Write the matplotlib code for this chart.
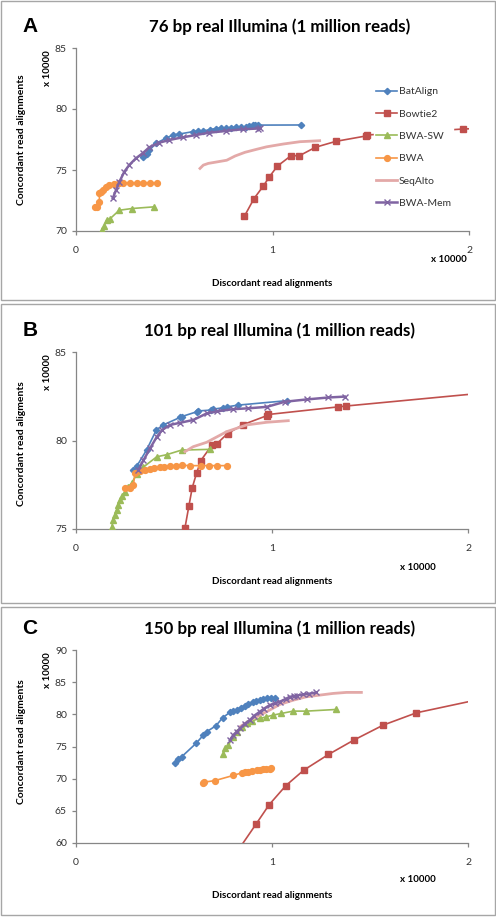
import matplotlib
matplotlib.use('Agg')
import matplotlib.pyplot as plt
from matplotlib.patches import Rectangle

W, H = 496, 917

names = ['BatAlign', 'Bowtie2', 'BWA-SW', 'BWA', 'SeqAlto', 'BWA-Mem']

# panel A: 76 bp (values in units of 10000)
a_batalign_x = [0.34, 0.36, 0.373, 0.407, 0.458, 0.492, 0.526, 0.594, 0.62, 0.645, 0.68, 0.712, 0.74, 0.763, 0.79, 0.814, 0.84, 0.865, 0.88, 0.899, 0.91, 0.924, 1.145]
a_batalign_y = [76.09, 76.3, 76.6, 77.19, 77.6, 77.87, 77.95, 78.14, 78.18, 78.2, 78.3, 78.4, 78.42, 78.45, 78.48, 78.5, 78.52, 78.55, 78.6, 78.66, 78.67, 78.68, 78.69]
a_bowtie2_x = [0.857, 0.906, 0.954, 0.984, 1.025, 1.094, 1.137, 1.218, 1.323, 1.476, 1.483, 1.971, 2.2]
a_bowtie2_y = [71.21, 72.66, 73.7, 74.44, 75.32, 76.17, 76.17, 76.86, 77.35, 77.79, 77.87, 78.36, 78.5]
a_bwasw_x = [0.12, 0.13, 0.143, 0.156, 0.173, 0.22, 0.283, 0.397]
a_bwasw_y = [69.7, 70.06, 70.4, 70.9, 71.0, 71.7, 71.84, 71.98]
a_bwa_x = [0.097, 0.105, 0.119, 0.119, 0.125, 0.136, 0.153, 0.17, 0.195, 0.221, 0.24, 0.275, 0.31, 0.34, 0.377, 0.41]
a_bwa_y = [71.98, 72.0, 72.4, 73.09, 73.2, 73.36, 73.6, 73.77, 73.85, 73.9, 73.93, 73.93, 73.93, 73.93, 73.93, 73.93]
a_seqalto_x = [0.631, 0.648, 0.673, 0.767, 0.81, 0.86, 0.92, 0.97, 1.055, 1.14, 1.24]
a_seqalto_y = [75.13, 75.4, 75.54, 75.8, 76.15, 76.45, 76.7, 76.9, 77.13, 77.32, 77.4]
a_bwamem_x = [0.187, 0.204, 0.221, 0.246, 0.271, 0.305, 0.339, 0.373, 0.424, 0.475, 0.543, 0.611, 0.679, 0.763, 0.848, 0.924, 0.936]
a_bwamem_y = [72.68, 73.36, 74.04, 74.86, 75.41, 75.96, 76.37, 76.86, 77.24, 77.46, 77.68, 77.87, 78.06, 78.2, 78.34, 78.4, 78.42]

# panel B: 101 bp
b_batalign_x = [0.293, 0.31, 0.36, 0.41, 0.445, 0.53, 0.539, 0.615, 0.624, 0.69, 0.7, 0.75, 0.769, 0.828, 1.075]
b_batalign_y = [78.33, 78.55, 79.46, 80.6, 80.88, 81.3, 81.35, 81.62, 81.67, 81.72, 81.77, 81.85, 81.9, 82.0, 82.25]
b_bowtie2_x = [0.556, 0.576, 0.593, 0.615, 0.637, 0.695, 0.717, 0.773, 0.853, 0.973, 0.981, 1.338, 1.38, 2.4]
b_bowtie2_y = [75.07, 76.3, 77.33, 78.15, 78.87, 79.76, 79.8, 80.39, 80.9, 81.4, 81.47, 81.9, 81.95, 83.02]
b_bwasw_x = [0.182, 0.19, 0.2, 0.207, 0.215, 0.224, 0.235, 0.25, 0.265, 0.284, 0.31, 0.344, 0.412, 0.463, 0.539, 0.684]
b_bwasw_y = [75.1, 75.5, 75.8, 76.07, 76.35, 76.64, 76.85, 77.1, 77.35, 77.6, 78.1, 78.5, 79.08, 79.2, 79.46, 79.5]
b_bwa_x = [0.25, 0.276, 0.293, 0.301, 0.327, 0.35, 0.378, 0.4, 0.429, 0.45, 0.48, 0.51, 0.539, 0.58, 0.64, 0.68, 0.72, 0.77]
b_bwa_y = [77.3, 77.3, 77.5, 78.15, 78.25, 78.32, 78.4, 78.45, 78.5, 78.52, 78.55, 78.57, 78.6, 78.58, 78.58, 78.58, 78.58, 78.58]
b_seqalto_x = [0.556, 0.598, 0.667, 0.769, 0.871, 0.973, 1.083]
b_seqalto_y = [79.37, 79.65, 79.9, 80.5, 80.88, 81.03, 81.12]
b_bwamem_x = [0.318, 0.344, 0.38, 0.412, 0.44, 0.48, 0.53, 0.598, 0.667, 0.72, 0.802, 0.88, 0.973, 1.066, 1.177, 1.288, 1.372]
b_bwamem_y = [78.33, 78.88, 79.6, 80.2, 80.6, 80.88, 81.0, 81.16, 81.53, 81.65, 81.77, 81.82, 81.9, 82.19, 82.32, 82.43, 82.48]

# panel C: 150 bp
c_batalign_x = [0.505, 0.522, 0.539, 0.612, 0.65, 0.666, 0.714, 0.748, 0.785, 0.8, 0.819, 0.84, 0.862, 0.88, 0.904, 0.92, 0.938, 0.955, 0.972, 0.997, 1.014]
c_batalign_y = [72.51, 73.13, 73.4, 75.47, 76.77, 77.29, 78.22, 79.47, 80.3, 80.5, 80.66, 81.0, 81.33, 81.6, 81.85, 82.0, 82.2, 82.35, 82.47, 82.58, 82.47]
c_bowtie2_x = [0.83, 0.918, 0.986, 1.071, 1.162, 1.288, 1.417, 1.567, 1.737, 2.1]
c_bowtie2_y = [59.0, 62.91, 65.97, 68.93, 71.32, 73.76, 75.99, 78.32, 80.24, 82.6]
c_bwasw_x = [0.751, 0.76, 0.777, 0.8, 0.819, 0.845, 0.87, 0.9, 0.938, 0.97, 1.006, 1.048, 1.108, 1.176, 1.329]
c_bwasw_y = [73.91, 74.69, 75.21, 76.4, 77.29, 78.0, 78.58, 79.0, 79.36, 79.6, 79.88, 80.14, 80.5, 80.5, 80.76]
c_bwa_x = [0.646, 0.652, 0.709, 0.802, 0.845, 0.86, 0.879, 0.9, 0.921, 0.94, 0.955, 0.97, 0.989, 0.997]
c_bwa_y = [69.4, 69.45, 69.7, 70.5, 70.9, 71.0, 71.06, 71.2, 71.32, 71.4, 71.48, 71.52, 71.58, 71.7]
c_seqalto_x = [0.836, 0.904, 0.972, 1.04, 1.108, 1.176, 1.244, 1.312, 1.38, 1.456]
c_seqalto_y = [78.06, 79.36, 80.4, 81.54, 82.2, 82.73, 82.99, 83.25, 83.41, 83.41]
c_bwamem_x = [0.785, 0.802, 0.82, 0.836, 0.86, 0.887, 0.91, 0.938, 0.96, 0.989, 1.015, 1.04, 1.07, 1.091, 1.11, 1.125, 1.159, 1.19, 1.227]
c_bwamem_y = [75.99, 76.77, 77.3, 77.8, 78.5, 79.1, 79.8, 80.4, 80.9, 81.44, 81.7, 81.96, 82.4, 82.73, 82.8, 82.9, 83.1, 83.2, 83.4]

colors = ['#4F81BD', '#C0504D', '#9BBB59', '#F79646', '#E3A9A8', '#8064A2']
markers = ['D', 's', '^', 'o', None, 'x']
msizes = [3.2, 5, 4.5, 4.2, 0, 4.5]
widths = [1.2, 1.2, 1.2, 1.2, 2.0, 1.8]

FONT = 'Lato'
GREY = '#868686'


def px_box(x0, y0, x1, y1):
    # pixel box (top-left origin) to figure fraction rect
    return [x0 / W, 1 - y1 / H, (x1 - x0) / W, (y1 - y0) / H]


def draw_panel(fig, rect, series, ylim, yticks, title, letter, ylabel, xmult_pos, xlabel_y, ymult_y, legend=False):
    ax = fig.add_axes(rect)
    for i, (xs, ys) in enumerate(series):
        ax.plot(xs, ys, color=colors[i], lw=widths[i], marker=markers[i], ms=msizes[i],
                mec=colors[i], mew=1.0, label=names[i], clip_on=True, zorder=3 + (i == 5))
    ax.set_xlim(0, 2)
    ax.set_ylim(*ylim)
    ax.set_xticks([0, 1, 2])
    ax.set_xticklabels(['0', '1', '2'])
    ax.set_yticks(yticks)
    for s in ['top', 'right']:
        ax.spines[s].set_visible(False)
    for s in ['left', 'bottom']:
        ax.spines[s].set_color(GREY)
        ax.spines[s].set_linewidth(0.9)
    ax.tick_params(axis='both', colors=GREY, labelcolor='#333333', labelsize=7.5, length=3, width=0.9)
    ax.tick_params(axis='x', pad=8)
    for lab in ax.get_xticklabels() + ax.get_yticklabels():
        lab.set_family(FONT)

    top = (1 - rect[1] - rect[3]) * H
    fig.text(280 / W, 1 - (top - 21) / H, title, ha='center', va='center',
             family=FONT, weight='bold', fontsize=12.2)
    fig.text(30 / W, 1 - (top - 21) / H, letter, ha='center', va='center',
             family='Liberation Sans', weight='bold', fontsize=15)
    fig.text(22 / W, 1 - (top + 92) / H, ylabel, ha='center', va='center', rotation=90,
             family=FONT, weight='bold', fontsize=7.5)
    fig.text(47 / W, 1 - ymult_y / H, 'x 10000', ha='center', va='center', rotation=90,
             family=FONT, weight='bold', fontsize=7)
    fig.text(xmult_pos[0] / W, 1 - xmult_pos[1] / H, 'x 10000', ha='center', va='center',
             family=FONT, weight='bold', fontsize=7)
    fig.text(272 / W, 1 - xlabel_y / H, 'Discordant read alignments', ha='center', va='center',
             family=FONT, weight='bold', fontsize=7.1)
    if legend:
        leg = ax.legend(loc='upper left', bbox_to_anchor=(374 / W, 1 - 85 / H),
                        bbox_transform=fig.transFigure, frameon=True, fancybox=False,
                        edgecolor='white', facecolor='white', framealpha=1,
                        prop={'family': FONT, 'size': 7.5}, labelspacing=1.25,
                        handlelength=2.0, handletextpad=0.2, borderpad=0.2, borderaxespad=0)
        leg.set_zorder(10)
        for t in leg.get_texts():
            t.set_color('#333333')
    return ax


def main():
    fig = plt.figure(figsize=(W / 100, H / 100), dpi=100)

    for y0, y1 in [(1, 300), (304, 603), (607, 915)]:
        fig.patches.append(Rectangle((1 / W, 1 - y1 / H), 494 / W, (y1 - y0) / H,
                                     transform=fig.transFigure, fill=False,
                                     edgecolor='#a6a6a6', lw=1.0))

    series_a = [(a_batalign_x, a_batalign_y), (a_bowtie2_x, a_bowtie2_y), (a_bwasw_x, a_bwasw_y),
                (a_bwa_x, a_bwa_y), (a_seqalto_x, a_seqalto_y), (a_bwamem_x, a_bwamem_y)]
    series_b = [(b_batalign_x, b_batalign_y), (b_bowtie2_x, b_bowtie2_y), (b_bwasw_x, b_bwasw_y),
                (b_bwa_x, b_bwa_y), (b_seqalto_x, b_seqalto_y), (b_bwamem_x, b_bwamem_y)]
    series_c = [(c_batalign_x, c_batalign_y), (c_bowtie2_x, c_bowtie2_y), (c_bwasw_x, c_bwasw_y),
                (c_bwa_x, c_bwa_y), (c_seqalto_x, c_seqalto_y), (c_bwamem_x, c_bwamem_y)]

    draw_panel(fig, px_box(76, 48, 469, 231), series_a, (70, 85), [70, 75, 80, 85],
               '76 bp real Illumina (1 million reads)', 'A', 'Concordant read alignments',
               (449, 260), 284, 68, legend=True)
    draw_panel(fig, px_box(76, 352, 468, 529), series_b, (75, 85), [75, 80, 85],
               '101 bp real Illumina (1 million reads)', 'B', 'Concordant read aligments',
               (418, 567), 582, 372)
    draw_panel(fig, px_box(76, 650, 468, 843), series_c, (60, 90), [60, 65, 70, 75, 80, 85, 90],
               '150 bp real Illumina (1 million reads)', 'C', 'Concordant read aligments',
               (418, 879), 896, 670)

    fig.savefig('out.png', dpi=100, facecolor='white')


if __name__ == '__main__':
    main()
